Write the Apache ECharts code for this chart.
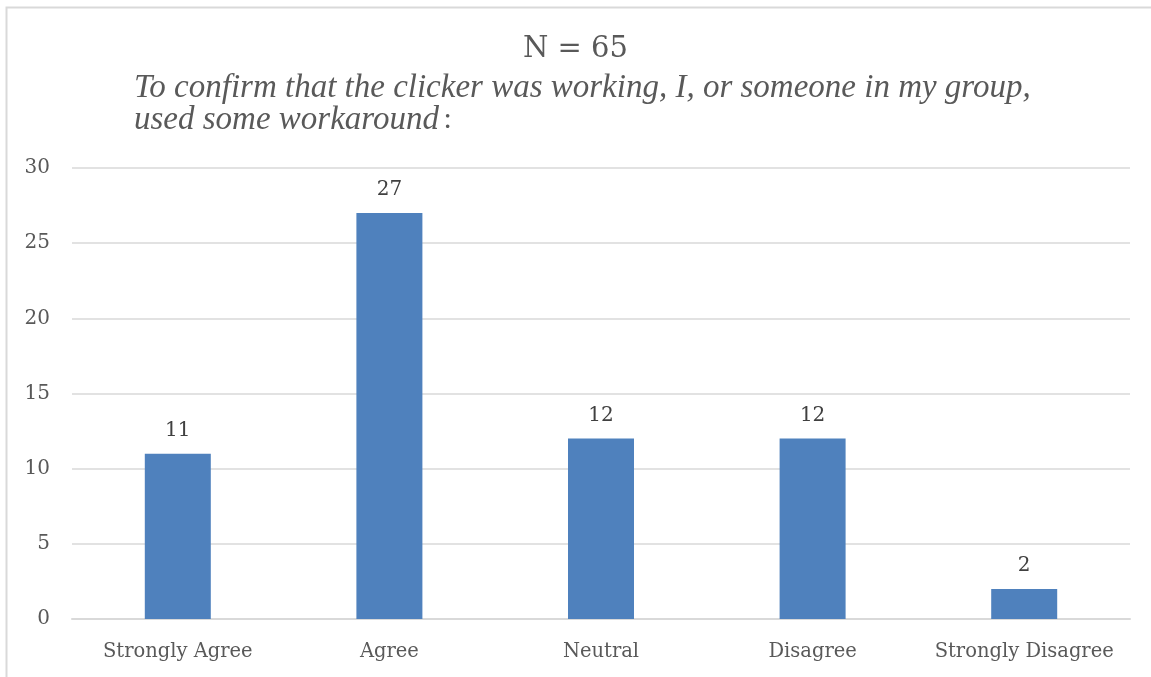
<!DOCTYPE html>
<html>
<head>
<meta charset="utf-8">
<script src="https://cdn.jsdelivr.net/npm/echarts@6/dist/echarts.min.js"></script>
<style>
  html, body { margin: 0; padding: 0; background: #fff; }
  #main { width: 1151px; height: 677px; }
</style>
</head>
<body>
<div id="main"></div>
<script>
// data
var categories = ['Strongly Agree', 'Agree', 'Neutral', 'Disagree', 'Strongly Disagree'];
var counts = [11, 27, 12, 12, 2];
var yTicks = [0, 5, 10, 15, 20, 25, 30];

var chart = echarts.init(document.getElementById('main'));
var serif = '"DejaVu Serif", serif';
var times = 'Liberation Serif, Times New Roman, Times, serif';

var option = {
  animation: false,
  // frame (only top and left edges visible in the picture)
  graphic: [{
    type: 'polyline',
    shape: { points: [[6.5, 700], [6.5, 7.5], [1200, 7.5]] },
    style: { stroke: '#d9d9d9', lineWidth: 2, fill: null }
  }],
  title: [{
    text: 'N = 65',
    left: 'center',
    top: 30,
    textStyle: { fontFamily: serif, fontSize: 29, fontWeight: 'normal', color: '#595959' }
  }, {
    text: '{i|To confirm that the clicker was working, I, or someone in my group,}\n{i|used some workaround} {n|:}',
    left: 129,
    top: 67,
    textStyle: {
      fontWeight: 'normal',
      fontFamily: times,
      rich: {
        i: { fontFamily: times, fontStyle: 'italic', fontWeight: 'normal', fontSize: 33, color: '#595959', lineHeight: 32 },
        n: { fontFamily: times, fontWeight: 'normal', fontSize: 30, color: '#595959', lineHeight: 32 }
      }
    }
  }],
  grid: { left: 72, right: 21, top: 168, bottom: 58 },
  xAxis: {
    type: 'category',
    data: categories,
    axisLine: { lineStyle: { color: '#d9d9d9', width: 2 } },
    axisTick: { show: false },
    axisLabel: { interval: 0, fontFamily: serif, fontSize: 19.5, color: '#595959', margin: 23 }
  },
  yAxis: {
    type: 'value',
    min: yTicks[0],
    max: yTicks[yTicks.length - 1],
    interval: 5,
    axisLine: { show: false },
    axisTick: { show: false },
    splitLine: { lineStyle: { color: '#d9d9d9', width: 1.5 } },
    axisLabel: { fontFamily: serif, fontSize: 20, color: '#595959', margin: 22 }
  },
  series: [{
    type: 'bar',
    data: counts,
    barWidth: 66,
    itemStyle: { color: '#4f81bd' },
    label: {
      show: true,
      position: 'top',
      distance: 13,
      fontFamily: serif,
      fontSize: 20,
      color: '#404040'
    }
  }]
};

chart.setOption(option);
</script>
</body>
</html>
